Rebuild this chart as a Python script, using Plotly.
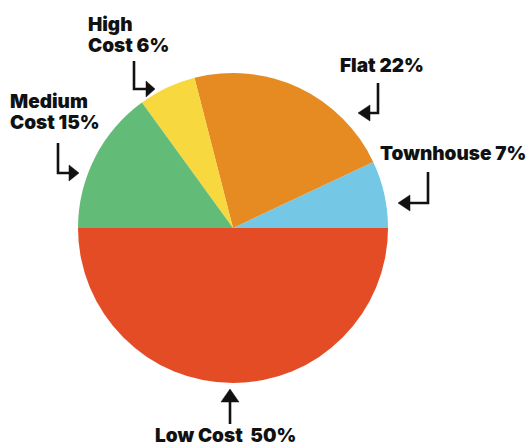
import plotly.graph_objects as go

categories = ["Townhouse", "Flat", "High Cost", "Medium Cost", "Low Cost"]
values = [7, 22, 6, 15, 50]
label_texts = ["Townhouse 7%", "Flat 22%", "High<br>Cost 6%", "Medium<br>Cost 15%", "Low Cost  50%"]
colors = ["#74c8e6", "#e58b22", "#f7d83e", "#62bc77", "#e44c26"]

W, H = 527, 448

def px(x):
    return x / W

def py(y):
    return 1 - y / H

fig = go.Figure(go.Pie(
    labels=categories, values=values, sort=False,
    direction="counterclockwise", rotation=64.8,
    marker=dict(colors=colors, line=dict(width=0)),
    textinfo="none", hoverinfo="label+percent", showlegend=False,
    domain=dict(x=[px(78), px(388)], y=[py(383), py(73)]),
))

font = dict(family="Inter", size=19, color="#111111", weight=900)

# label positions (pixels): x, y(center of first line), anchor
label_pos = [
    (379, 153, "left"),
    (339, 65, "left"),
    (87, 25, "left"),
    (9, 102, "left"),
    (225, 435, "center"),
]
line_gap = 20
for txt, (x, y, xa) in zip(label_texts, label_pos):
    for i, line in enumerate(txt.split("<br>")):
        fig.add_annotation(x=px(x), y=py(y + i * line_gap), xref="paper", yref="paper",
                           text=line, showarrow=False, xanchor=xa, yanchor="middle",
                           align="left", font=font, borderpad=0)

def path(points, close=False):
    s = "M " + " L ".join(f"{px(a):.5f},{py(b):.5f}" for a, b in points)
    return s + (" Z" if close else "")

lw = 2.6
# bent arrows: (vertical line x, y top, y bottom, horizontal end x, tip x, head half-height)
bent = [
    (134, 61, 89, 146, 155, 8),
    (58, 143, 173, 69, 79, 8),
    (378, 83, 113, 370, 358, 8),
    (428, 172, 203, 410, 398, 8),
]
for vx, yt, yb, hx, tx, hh in bent:
    fig.add_shape(type="path", xref="paper", yref="paper",
                  path=path([(vx, yt), (vx, yb), (hx, yb)]),
                  line=dict(color="#111111", width=lw))
    fig.add_shape(type="path", xref="paper", yref="paper",
                  path=path([(hx, yb - hh), (tx, yb), (hx, yb + hh)], close=True),
                  line=dict(color="#111111", width=0.5), fillcolor="#111111")

# low cost up arrow
fig.add_shape(type="path", xref="paper", yref="paper",
              path=path([(230, 424), (230, 400)]),
              line=dict(color="#111111", width=lw))
fig.add_shape(type="path", xref="paper", yref="paper",
              path=path([(221, 402), (230, 389), (239, 402)], close=True),
              line=dict(color="#111111", width=0.5), fillcolor="#111111")

fig.update_layout(width=W, height=H, margin=dict(l=0, r=0, t=0, b=0),
                  paper_bgcolor="white", plot_bgcolor="white")
fig.write_html("out.html")
